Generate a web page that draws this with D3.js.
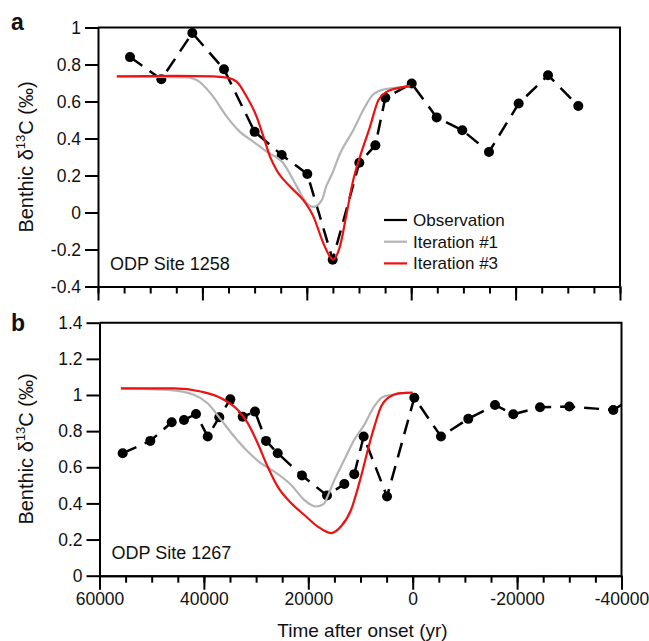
<!DOCTYPE html>
<html>
<head>
<meta charset="utf-8">
<script src="https://cdn.jsdelivr.net/npm/d3@7"></script>
<style>
  body { margin: 0; background: #fff; }
  svg text { font-family: "Liberation Sans", Arial, sans-serif; fill: #111; }
  .axis path, .axis line { stroke: #000; stroke-width: 2; }
  .axis text { font-size: 17.5px; }
</style>
</head>
<body>
<div id="chart"></div>
<script>
// ---- data: [time after onset (yr), benthic d13C (permil)] ----
var obs1258 = [
  [53870, 0.84], [47870, 0.72], [41930, 0.97], [35860, 0.774], [29990, 0.436],
  [24810, 0.311], [19900, 0.208], [15040, -0.255], [9940, 0.269], [6870, 0.363],
  [4960, 0.62], [-100, 0.697], [-4880, 0.514], [-9790, 0.445], [-14900, 0.327],
  [-20590, 0.589], [-26210, 0.742], [-32010, 0.576]
];
var iter1_1258 = [
  [56400, 0.735], [43000, 0.73], [40500, 0.705], [37900, 0.625], [35300, 0.517],
  [32800, 0.436], [30200, 0.382], [27700, 0.329], [24500, 0.266], [21900, 0.14],
  [20000, 0.05], [18700, 0.03], [17100, 0.068], [16300, 0.14], [15300, 0.2],
  [13600, 0.32], [11100, 0.445], [9200, 0.553], [7300, 0.638], [5300, 0.665],
  [2800, 0.675], [200, 0.682]
];
var iter3_1258 = [
  [56400, 0.736], [45000, 0.738], [38000, 0.736], [35300, 0.729], [33400, 0.706],
  [31500, 0.625], [29600, 0.517], [28300, 0.409], [27050, 0.302], [25800, 0.23],
  [23200, 0.14], [20700, 0.068], [18750, -0.021], [16850, -0.165], [15600, -0.237],
  [15000, -0.255], [13650, -0.183], [12350, -0.003], [11100, 0.176], [9800, 0.302],
  [7900, 0.463], [6300, 0.607], [4700, 0.652], [2150, 0.675], [200, 0.682]
];

var obs1267 = [
  [55560, 0.678], [50270, 0.746], [46170, 0.849], [43810, 0.862], [41510, 0.895],
  [39270, 0.77], [37050, 0.877], [34940, 0.976], [32570, 0.88], [30210, 0.908],
  [28100, 0.746], [25860, 0.678], [21210, 0.554], [16420, 0.444], [13100, 0.507],
  [11190, 0.562], [9390, 0.77], [4920, 0.438], [-310, 0.985], [-5420, 0.77],
  [-10650, 0.868], [-15770, 0.945], [-19270, 0.893], [-24390, 0.932],
  [-30000, 0.936], [-38430, 0.917], [-42500, 0.99]
];
var iter1_1267 = [
  [55900, 1.037], [46900, 1.028], [41800, 1.0], [39300, 0.954], [36700, 0.862],
  [34200, 0.77], [31600, 0.687], [29100, 0.623], [26500, 0.576], [23300, 0.503],
  [20800, 0.42], [18500, 0.383], [17000, 0.398], [16300, 0.44], [15000, 0.53],
  [13100, 0.641], [11200, 0.752], [9300, 0.834], [7400, 0.936], [5800, 0.988],
  [3500, 1.004], [1000, 1.013]
];
var iter3_1267 = [
  [55900, 1.037], [45700, 1.037], [40600, 1.019], [36700, 0.982], [33500, 0.917],
  [31600, 0.844], [29700, 0.733], [27800, 0.604], [25900, 0.494], [23300, 0.402],
  [20800, 0.337], [18200, 0.272], [15650, 0.236], [13750, 0.272], [11800, 0.365],
  [9900, 0.549], [8600, 0.696], [7350, 0.825], [6050, 0.936], [4800, 0.982],
  [2250, 1.01], [0, 1.013]
];

var xMajorTicks = [60000, 40000, 20000, 0, -20000, -40000];
var xMinorTicks = d3.range(60000, -40001, -5000);
var yTicks1258 = [1, 0.8, 0.6, 0.4, 0.2, 0, -0.2, -0.4];
var yTicks1267 = [1.4, 1.2, 1, 0.8, 0.6, 0.4, 0.2, 0];

var legendNames = ["Observation", "Iteration #1", "Iteration #3"];
var legendColors = ["#000000", "#b4b4b4", "#ee1111"];

// ---- page ----
var svg = d3.select("#chart")
  .append("svg")
    .attr("width", 649)
    .attr("height", 641);

var fmt = (d) => String(+d.toFixed(1));

function drawPanel(opt) {
  var x = d3.scaleLinear().domain([60000, -40000]).range([opt.left, opt.right]);
  var y = d3.scaleLinear().domain(opt.yDomain).range([opt.bottom, opt.top]);

  var g = svg.append("g");

  g.append("clipPath").attr("id", opt.id + "-clip")
    .append("rect")
      .attr("x", opt.left).attr("y", opt.top)
      .attr("width", opt.right - opt.left).attr("height", opt.bottom - opt.top);

  // frame top + right
  g.append("path")
    .attr("d", "M" + opt.left + "," + opt.top + "H" + opt.right + "V" + opt.bottom)
    .attr("fill", "none").attr("stroke", "#000").attr("stroke-width", 2);

  // minor x ticks
  g.append("g")
    .attr("class", "axis")
    .attr("transform", "translate(0," + opt.bottom + ")")
    .call(d3.axisBottom(x).tickValues(xMinorTicks).tickSize(7).tickSizeOuter(0).tickFormat(""));

  // major x ticks
  g.append("g")
    .attr("class", "axis")
    .attr("transform", "translate(0," + opt.bottom + ")")
    .call(d3.axisBottom(x).tickValues(xMajorTicks).tickSize(14).tickSizeOuter(0)
      .tickPadding(3)
      .tickFormat(opt.xLabels ? (d) => String(d) : ""));

  // y axis
  g.append("g")
    .attr("class", "axis")
    .attr("transform", "translate(" + opt.left + ",0)")
    .call(d3.axisLeft(y).tickValues(opt.yTicks).tickSize(13).tickSizeOuter(0)
      .tickPadding(4).tickFormat(fmt));

  // y label
  var lab = g.append("text")
    .attr("transform", "translate(" + 33 + "," + opt.labelY + ") rotate(-90)")
    .style("text-anchor", "middle")
    .style("font-size", "20px");
  lab.append("tspan").text("Benthic \u03b4");
  lab.append("tspan").attr("dy", -8).style("font-size", "13px").text("13");
  lab.append("tspan").attr("dy", 8).text("C (\u2030)");

  // panel letter
  g.append("text")
    .attr("x", 11).attr("y", opt.letterY)
    .style("font-size", "23px").style("font-weight", "bold")
    .text(opt.letter);

  // site label
  g.append("text")
    .attr("x", opt.left + 12).attr("y", opt.siteY)
    .style("font-size", "18px")
    .text(opt.site);

  var line = d3.line()
    .x((d) => x(d[0]))
    .y((d) => y(d[1]));

  var smooth = d3.line()
    .x((d) => x(d[0]))
    .y((d) => y(d[1]))
    .curve(d3.curveMonotoneX);

  var plot = g.append("g").attr("clip-path", "url(#" + opt.id + "-clip)");

  // observation dashed line + dots
  plot.append("path")
    .datum(opt.obs)
    .attr("d", line)
    .attr("fill", "none")
    .attr("stroke", "#000")
    .attr("stroke-width", 2.5)
    .attr("stroke-dasharray", "15,9");

  plot.append("g")
    .selectAll("circle")
    .data(opt.obs)
    .enter()
      .append("circle")
      .attr("cx", (d) => x(d[0]))
      .attr("cy", (d) => y(d[1]))
      .attr("r", 5)
      .attr("fill", "#000");

  // model iterations
  plot.append("path")
    .datum(opt.iter1)
    .attr("d", smooth)
    .attr("fill", "none")
    .attr("stroke", legendColors[1])
    .attr("stroke-width", 2.2);

  plot.append("path")
    .datum(opt.iter3)
    .attr("d", smooth)
    .attr("fill", "none")
    .attr("stroke", legendColors[2])
    .attr("stroke-width", 2.2);

  if (opt.xLabels) {
    g.append("text")
      .attr("x", (opt.left + opt.right) / 2 + 2)
      .attr("y", 637)
      .style("text-anchor", "middle")
      .style("font-size", "19px")
      .text("Time after onset (yr)");
  }
  return g;
}

var top1 = drawPanel({
  id: "p1258", letter: "a", letterY: 30, site: "ODP Site 1258", siteY: 270,
  left: 98, right: 620, top: 27.5, bottom: 286.5,
  yDomain: [-0.4, 1], yTicks: yTicks1258, labelY: 157, xLabels: false,
  obs: obs1258, iter1: iter1_1258, iter3: iter3_1258
});

drawPanel({
  id: "p1267", letter: "b", letterY: 331, site: "ODP Site 1267", siteY: 559,
  left: 99.5, right: 621.5, top: 322.7, bottom: 575.7,
  yDomain: [0, 1.4], yTicks: yTicks1267, labelY: 449, xLabels: true,
  obs: obs1267, iter1: iter1_1267, iter3: iter3_1267
});

// legend (panel a)
var legend = top1.append("g");
legendNames.forEach((name, i) => {
  var ly = 220 + i * 21.7;
  legend.append("line")
    .attr("x1", 384).attr("x2", 407)
    .attr("y1", ly).attr("y2", ly)
    .attr("stroke", legendColors[i]).attr("stroke-width", 2.2);
  legend.append("text")
    .attr("x", 413).attr("y", ly + 6)
    .style("font-size", "17px")
    .text(name);
});
</script>
</body>
</html>
